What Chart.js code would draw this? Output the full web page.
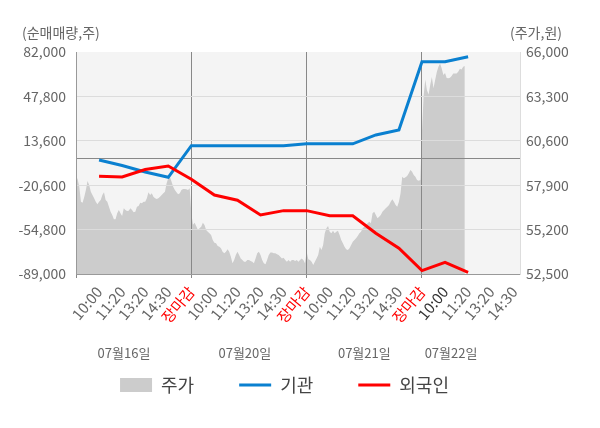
<!DOCTYPE html>
<html><head><meta charset="utf-8">
<script src="https://cdn.jsdelivr.net/npm/chart.js@4.4.0/dist/chart.umd.min.js"></script>
<style>html,body{margin:0;padding:0;background:#fff;}canvas{display:block;}</style>
</head><body>
<canvas id="c" width="600" height="428"></canvas>
<script>
// ---- data ----
const timeLabels = ['', '10:00','11:20','13:20','14:30','장마감',
                        '10:00','11:20','13:20','14:30','장마감',
                        '10:00','11:20','13:20','14:30','장마감',
                        '10:00','11:20','13:20','14:30'];
const dayLabels = ['07월16일','07월20일','07월21일','07월22일'];
const dayLabelSlots = [2.08, 7.32, 12.5, 16.26];
const flowSlots = [1,2,3,4,5,6,7,8,9,10,11,12,13,14,15,16,17];
const institution = [-1200,-5400,-10400,-14500,9800,9800,9800,9800,9800,11300,11300,11300,18100,21900,74500,74500,78400];
const foreigners  = [-13700,-14300,-8500,-5800,-16000,-28200,-32200,-43500,-40200,-40200,-44100,-44100,-57600,-69200,-86400,-80000,-87700];
const priceDay1 = [58460,58260,57810,56900,56840,57180,57610,58160,57910,57500,
  57300,57100,56900,56740,56900,57000,57300,57470,57000,56900,
  56590,56290,56090,55830,55830,56190,56390,56190,56030,56500,
  56390,56330,56350,56500,56390,56250,56290,56590,56640,56840,
  56800,56900,56900,57100,57470,57300,57410,57200,57100,57060,
  57100,57200,57300,57410,57500,58020,58320,58420,58110,57810,
  57610,57470,57350,57410,57610,57670,57670,57650,57610,57710];
const priceDay2 = [56190,55500,55620,55400,55180,55280,55380,55620,55480,55180,
  55070,54980,54870,54570,54400,54370,54200,54160,54060,53860,
  53760,53860,54000,53860,53550,53150,53350,53660,53860,53660,
  53450,53350,53250,53250,53350,53350,53290,53250,53150,53450,
  53760,53860,53660,53350,53150,53090,53350,53660,53800,53800,
  53760,53760,53700,53660,53550,53450,53490,53350,53250,53350,
  53250,53350,53350,53290,53350,53250,53350,53450,53350,53150];
const priceDay3 = [53860,53400,53350,53250,53050,53250,53450,53660,54160,53960,
  54260,54980,55280,55420,55070,54980,55130,54980,55070,55130,
  54870,54570,54370,54160,54000,53960,54060,54260,54460,54570,
  54670,54810,54980,55070,55280,55380,55480,55580,55680,55580,
  56190,56290,56090,55890,55980,56090,56290,56390,56500,56590,
  56700,56900,57040,56900,56700,56590,56900,57410,58420,58320,
  58380,58460,58620,58820,58720,58520,58420,58220,58170,58220];
const priceDay4 = [61150,63320,64330,63690,63420,63990,64480,63790,64300,64780,
  65110,65300,65000,64600,64720,64420,64400,64430,64540,64700,
  64700,64700,64800,64980,64940,65110,65150];
const leftTicks  = [-89000,-54800,-20600,13600,47800,82000];
const rightTicks = [52500,55200,57900,60600,63300,66000];

// ---- build ----
const SLOTS_PER_DAY = 5, POINTS_PER_DAY = 70;
const pricePoints = [];
[priceDay1, priceDay2, priceDay3, priceDay4].forEach((day, d) => {
  day.forEach((p, i) => pricePoints.push({x: d * SLOTS_PER_DAY + i * SLOTS_PER_DAY / POINTS_PER_DAY, y: p}));
});
const toPts = vals => vals.map((v, i) => ({x: flowSlots[i], y: v}));
const X_MAX = 19.25;
const FONT = "'Noto Sans CJK KR', 'Noto Sans', sans-serif";
Chart.defaults.font.family = FONT;
const sepValues = [5, 10, 15];

const bgPlugin = {
  id: 'bg',
  beforeDraw(chart) {
    const {ctx, chartArea: a} = chart;
    ctx.save();
    ctx.globalCompositeOperation = 'destination-over';
    ctx.fillStyle = '#f4f4f4';
    ctx.fillRect(a.left, a.top, a.right - a.left, a.bottom - a.top);
    ctx.restore();
  },
  afterDraw(chart) {
    const {ctx} = chart;
    const xs = chart.scales.x;
    ctx.save();
    ctx.font = '14px ' + FONT;
    ctx.fillStyle = '#666';
    ctx.textBaseline = 'middle';
    ctx.textAlign = 'left';
    ctx.fillText('(순매매량,주)', 22, 33);
    ctx.textAlign = 'right';
    ctx.fillText('(주가,원)', 562, 33);
    ctx.font = '13px ' + FONT;
    ctx.textAlign = 'center';
    dayLabels.forEach((t, i) => ctx.fillText(t, xs.getPixelForValue(dayLabelSlots[i]), 353));
    ctx.restore();
  }
};

new Chart(document.getElementById('c'), {
  type: 'line',
  data: {
    datasets: [
      { label: '주가', data: pricePoints, yAxisID: 'y2', order: 3,
        fill: 'start', backgroundColor: '#cccccc', borderColor: '#cccccc', borderWidth: 0,
        pointRadius: 0, pointStyle: 'rect', pointBackgroundColor: '#cccccc', pointBorderColor: '#cccccc', pointBorderWidth: 0 },
      { label: '기관', data: toPts(institution), yAxisID: 'y', order: 2,
        borderColor: '#0a80d0', backgroundColor: '#0a80d0', borderWidth: 3, fill: false,
        pointRadius: 0, pointStyle: 'line', pointBorderColor: '#0a80d0', pointBorderWidth: 3 },
      { label: '외국인', data: toPts(foreigners), yAxisID: 'y', order: 1,
        borderColor: '#ff0000', backgroundColor: '#ff0000', borderWidth: 3, fill: false,
        pointRadius: 0, pointStyle: 'line', pointBorderColor: '#ff0000', pointBorderWidth: 3 }
    ]
  },
  options: {
    responsive: false,
    animation: false,
    events: [],
    layout: { padding: { left: 0, right: 31, top: 52, bottom: 24 } },
    scales: {
      x: {
        type: 'linear', position: 'bottom', min: 0, max: X_MAX,
        afterBuildTicks: ax => { ax.ticks = timeLabels.map((_, i) => ({value: i})); },
        afterFit: ax => { ax.height = 57; },
        ticks: {
          autoSkip: false, minRotation: 50, maxRotation: 50, padding: 5,
          font: {size: 15},
          callback: (v, i) => timeLabels[i],
          color: c => timeLabels[c.index] === '장마감' ? '#ff0000' : (c.index === 16 ? '#333333' : '#666666')
        },
        grid: {
          color: c => sepValues.includes(c.tick.value) ? '#888888' : 'rgba(0,0,0,0)',
          tickColor: c => (c.tick.value === 0 || sepValues.includes(c.tick.value)) ? '#888888' : 'rgba(0,0,0,0)',
          tickLength: 4, drawTicks: true
        },
        border: { color: '#999999' }
      },
      y: {
        type: 'linear', position: 'left', min: -89000, max: 82000,
        afterBuildTicks: ax => { ax.ticks = leftTicks.concat([0]).sort((a, b) => a - b).map(v => ({value: v})); },
        afterFit: ax => { ax.width = 76; },
        ticks: { autoSkip: false, padding: 10, font: {size: 14}, color: '#666666',
          callback: v => v === 0 ? '' : v.toLocaleString('en-US') },
        grid: {
          drawTicks: false,
          color: c => c.tick.value === 0 ? '#888888' : (c.tick.value === 82000 ? 'rgba(0,0,0,0)' : '#dcdcdc')
        },
        border: { color: '#999999' }
      },
      y2: {
        type: 'linear', position: 'right', min: 52500, max: 66000,
        afterBuildTicks: ax => { ax.ticks = rightTicks.map(v => ({value: v})); },
        afterFit: ax => { ax.width = 49; },
        ticks: { autoSkip: false, padding: 6, font: {size: 14}, color: '#666666',
          callback: v => v.toLocaleString('en-US') },
        grid: { drawOnChartArea: false, drawTicks: false },
        border: { color: '#dddddd' }
      }
    },
    plugins: {
      filler: { drawTime: 'beforeDraw' },
      tooltip: { enabled: false },
      legend: {
        position: 'bottom',
        labels: {
          usePointStyle: true, pointStyleWidth: 32, boxHeight: 14, padding: 45,
          font: {size: 18}, color: '#444444',
          sort: (a, b) => a.datasetIndex - b.datasetIndex
        }
      }
    }
  },
  plugins: [bgPlugin]
});
</script>
</body></html>
